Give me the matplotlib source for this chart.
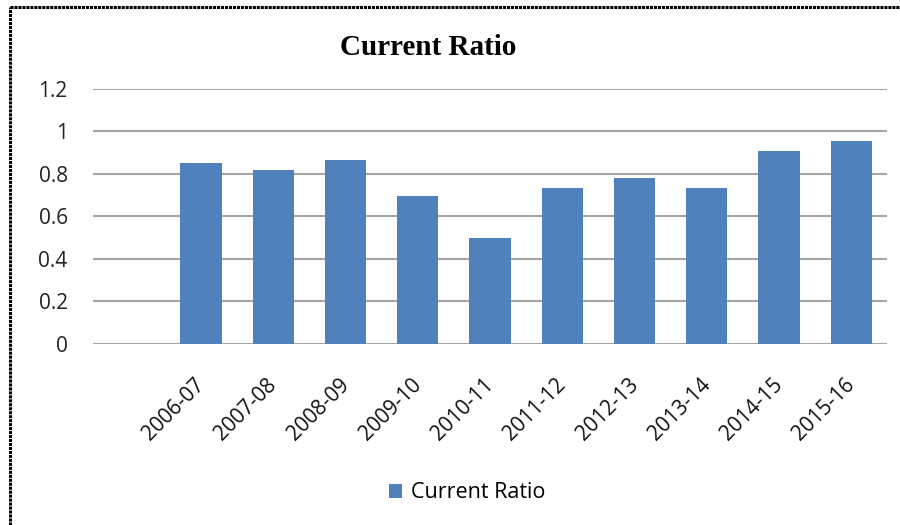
import numpy as np
import matplotlib.pyplot as plt
import matplotlib.transforms as mtransforms
from matplotlib.lines import Line2D

# datos
years = ["", "2006-07", "2007-08", "2008-09", "2009-10", "2010-11",
         "2011-12", "2012-13", "2013-14", "2014-15", "2015-16"]
current_ratio = [np.nan, 0.85, 0.82, 0.866, 0.697, 0.50,
                 0.735, 0.78, 0.735, 0.908, 0.957]
yticks = [0, 0.2, 0.4, 0.6, 0.8, 1.0, 1.2]
ytick_labels = ["0", "0.2", "0.4", "0.6", "0.8", "1", "1.2"]

bar_color = "#4F81BD"
grid_color = "#A6A6A6"

fig = plt.figure(figsize=(9, 5.25), dpi=100)
ax = fig.add_axes([0.103, 0.345, 0.883, 0.4855])

x = np.arange(len(years))
ax.bar(x, current_ratio, width=0.57, color=bar_color, label="Current Ratio", zorder=2)

ax.set_xlim(-0.5, len(years) - 0.5)
ax.set_ylim(0, 1.2)
ax.set_yticks(yticks)
ax.set_yticklabels(ytick_labels, fontsize=15, family="Open Sans", color="#222222")
ax.set_xticks(x)
ax.set_xticklabels(years, rotation=45, ha="right", rotation_mode="anchor",
                   fontsize=15, family="Open Sans", color="#111111")
ax.tick_params(axis="x", length=0, pad=22)
ax.tick_params(axis="y", length=0, pad=18)
# desplazar un poco las etiquetas del eje x hacia la izquierda
shift = mtransforms.ScaledTranslation(-7 / 100, 0, fig.dpi_scale_trans)
for lbl in ax.get_xticklabels():
    lbl.set_transform(lbl.get_transform() + shift)
ax.yaxis.grid(True, color=grid_color, lw=1.5, zorder=0)
for s in ax.spines.values():
    s.set_visible(False)

fig.text(0.476, 0.909, "Current Ratio", ha="center", va="center",
         fontsize=21, fontweight="bold", family="Liberation Serif")

ax.legend(loc="center", bbox_to_anchor=(0.519, 0.061), bbox_transform=fig.transFigure,
          frameon=False, prop={"family": "Open Sans", "size": 15.5},
          handlelength=0.6, handleheight=0.6, handletextpad=0.4)

# borde del recuadro (solo arriba e izquierda visibles)
fig.add_artist(Line2D([0.011, 0.011], [0.0, 0.987], transform=fig.transFigure,
                      color="black", lw=2.2, ls=(0, (1, 0.3))))
fig.add_artist(Line2D([0.011, 1.0], [0.987, 0.987], transform=fig.transFigure,
                      color="black", lw=2.2, ls=(0, (1, 0.3))))

fig.savefig("out.png", dpi=100)
